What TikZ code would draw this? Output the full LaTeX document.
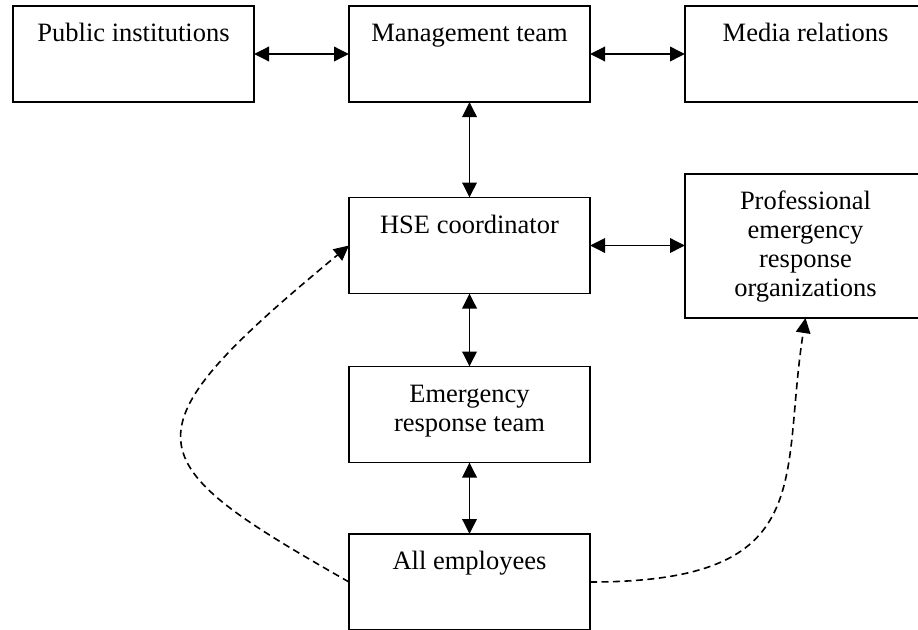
\documentclass[tikz,border=0pt]{standalone}
\usepackage{fontspec}
\setmainfont{Liberation Serif}
\usetikzlibrary{arrows.meta}

\begin{document}
\begin{tikzpicture}[x=1pt,y=-1pt,
  >={Triangle[length=15pt,width=14.5pt]},
  unit/.style={draw, line width=1.8pt, minimum width=241pt, minimum height=96pt,
    inner sep=0pt, outer sep=0pt, anchor=north west},
  tall/.style={minimum height=144pt},
  lbl/.style={anchor=north, inner sep=0pt, align=center,
    font=\fontsize{26.5}{29}\selectfont},
  link/.style={line width=1.9pt, <->},
  dlink/.style={line width=1.6pt, dash pattern=on 7pt off 4.5pt, ->}
]
  % canvas, boxes running past the edge are cut off
  \fill[white] (0,0) rectangle (918,629);
  \clip (0,0) rectangle (918,629);

  % boxes
  \node[unit] (pub)   at (13,6)      {};
  \node[unit] (mgmt)  at (349,6)     {};
  \node[unit] (media) at (685,6)     {};
  \node[unit] (hse)   at (349,197.5) {};
  \node[unit,tall] (prof) at (685,174) {};
  \node[unit] (ert)   at (349,366.5) {};
  \node[unit] (ae)    at (349,534)   {};

  % labels, set at the top of each box
  \node[lbl] (pubT)   at ([yshift=-15.2pt]pub.north)   {\strut Public institutions};
  \node[lbl] (mgmtT)  at ([yshift=-15.2pt]mgmt.north)  {\strut Management team};
  \node[lbl] (mediaT) at ([yshift=-15.2pt]media.north) {\strut Media relations};
  \node[lbl] (hseT)   at ([yshift=-15.2pt]hse.north)   {\strut HSE coordinator};
  \node[lbl] (profT)  at ([yshift=-15.2pt]prof.north)  {\strut Professional\\emergency\\response\\organizations};
  \node[lbl] (ertT)   at ([yshift=-15.2pt]ert.north)   {\strut Emergency\\response team};
  \node[lbl] (aeT)    at ([yshift=-15.2pt]ae.north)    {\strut All employees};

  % two-way links
  \draw[link] (pub.east) -- (mgmt.west);
  \draw[link] (mgmt.east) -- (media.west);
  \draw[link] (mgmt.south) -- (hse.north);
  \draw[link] (hse.east) -- (hse.east -| prof.west);
  \draw[link] (hse.south) -- (ert.north);
  \draw[link] (ert.south) -- (ae.north);

  % direct reporting lines from all employees
  \draw[dlink] (ae.west) .. controls (135.6,460.3) and (117.5,436.6) .. (hse.west);
  \draw[dlink] (ae.east) .. controls (820,582) and (780,480) .. (prof.south);
\end{tikzpicture}
\end{document}
